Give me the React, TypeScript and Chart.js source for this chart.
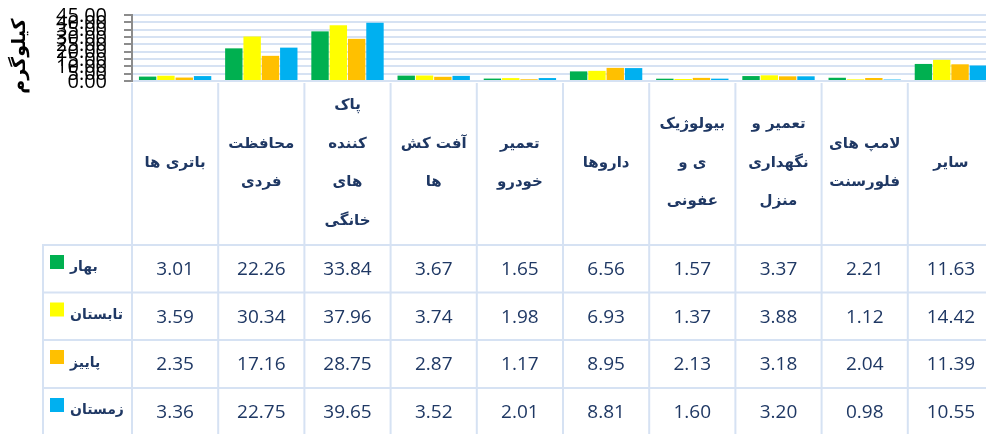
import React, { useEffect, useRef } from "react";
import { Chart, registerables } from "chart.js";

Chart.register(...registerables);

const categories: string[][] = [
  ["باتری ها"],
  ["محافظت", "فردی"],
  ["پاک", "کننده", "های", "خانگی"],
  ["آفت کش", "ها"],
  ["تعمیر", "خودرو"],
  ["داروها"],
  ["بیولوژیک", "ی و", "عفونی"],
  ["تعمیر و", "نگهداری", "منزل"],
  ["لامپ های", "فلورسنت"],
  ["سایر"],
];

const seriesNames = ["بهار", "تابستان", "پاییز", "زمستان"];
const spring = [3.01, 22.26, 33.84, 3.67, 1.65, 6.56, 1.57, 3.37, 2.21, 11.63];
const summer = [3.59, 30.34, 37.96, 3.74, 1.98, 6.93, 1.37, 3.88, 1.12, 14.42];
const autumn = [2.35, 17.16, 28.75, 2.87, 1.17, 8.95, 2.13, 3.18, 2.04, 11.39];
const winter = [3.36, 22.75, 39.65, 3.52, 2.01, 8.81, 1.6, 3.2, 0.98, 10.55];
const seriesColors = ["#00B050", "#FFFF00", "#FFC000", "#00B0F0"];
const yMin = 0;
const yMax = 45;
const yStep = 5;
const yTitle = "کیلوگرم";

const seriesValues = [spring, summer, autumn, winter];

const GRID = "#D6E2F3";
const TEXT = "#1F3864";
const PERSIAN_FONT = '"DejaVu Sans", sans-serif';
const NUM_FONT = '"Open Sans", sans-serif';

const tablePlugin = {
  id: "dataTable",
  afterDraw(chart: any) {
    const { ctx, chartArea, scales } = chart;
    const x = scales.x;
    const y = scales.y;
    const H = chart.height;
    const n = categories.length;
    const bounds: number[] = [chartArea.left];
    for (let i = 0; i < n - 1; i++) {
      bounds.push((x.getPixelForValue(i) + x.getPixelForValue(i + 1)) / 2);
    }
    bounds.push(chartArea.right);

    const tableLeft = 43;
    const rowTops = [245, 292.5, 340, 388, 435.5];
    const headerTop = chartArea.bottom + 2;

    ctx.save();
    ctx.direction = "ltr";

    // y tick labels from the scale's ticks
    ctx.fillStyle = "#000000";
    ctx.font = `20px ${NUM_FONT}`;
    ctx.textAlign = "right";
    ctx.textBaseline = "middle";
    y.ticks.forEach((t: any) => {
      ctx.fillText(Number(t.value).toFixed(2), 107, y.getPixelForValue(t.value) + 1);
    });

    ctx.strokeStyle = GRID;
    ctx.lineWidth = 2;
    // vertical lines
    bounds.forEach((b) => {
      ctx.beginPath();
      ctx.moveTo(b, headerTop);
      ctx.lineTo(b, H);
      ctx.stroke();
    });
    ctx.beginPath();
    ctx.moveTo(tableLeft, rowTops[0]);
    ctx.lineTo(tableLeft, H);
    ctx.stroke();
    // horizontal lines
    rowTops.forEach((t) => {
      ctx.beginPath();
      ctx.moveTo(tableLeft - 1, t);
      ctx.lineTo(chartArea.right, t);
      ctx.stroke();
    });

    // header labels
    ctx.fillStyle = TEXT;
    ctx.font = `bold 15px ${PERSIAN_FONT}`;
    ctx.textAlign = "center";
    ctx.textBaseline = "middle";
    ctx.direction = "rtl";
    const headerCenter = (headerTop + rowTops[0]) / 2 - 1;
    const lineH = 38.5;
    categories.forEach((lines, i) => {
      const cx = (bounds[i] + bounds[i + 1]) / 2;
      const startY = headerCenter - ((lines.length - 1) * lineH) / 2;
      lines.forEach((ln, j) => {
        ctx.fillText(ln, cx, startY + j * lineH);
      });
    });

    // rows
    seriesNames.forEach((name, r) => {
      const top = rowTops[r];
      const bottom = rowTops[r + 1];
      const cy = (top + bottom) / 2;
      ctx.fillStyle = seriesColors[r];
      ctx.fillRect(50, top + 10, 14, 14);
      ctx.fillStyle = TEXT;
      ctx.font = `bold 14px ${PERSIAN_FONT}`;
      ctx.textAlign = "left";
      ctx.direction = "ltr";
      ctx.fillText(name, 70, cy - 1);
      ctx.font = `19px ${NUM_FONT}`;
      ctx.textAlign = "center";
      seriesValues[r].forEach((v, i) => {
        const cx = (bounds[i] + bounds[i + 1]) / 2;
        ctx.fillText(v.toFixed(2), cx, cy + 1);
      });
    });

    // y title
    ctx.save();
    ctx.translate(20, 56);
    ctx.rotate(-Math.PI / 2);
    ctx.fillStyle = "#000000";
    ctx.font = `bold 19px ${PERSIAN_FONT}`;
    ctx.textAlign = "center";
    ctx.textBaseline = "middle";
    ctx.direction = "rtl";
    ctx.fillText(yTitle, 0, 0);
    ctx.restore();

    ctx.restore();
  },
};

export default function App() {
  const ref = useRef<HTMLCanvasElement | null>(null);
  useEffect(() => {
    document.body.style.margin = "0";
    const canvas = ref.current!;
    const chart = new Chart(canvas, {
      type: "bar",
      data: {
        labels: categories.map((c) => c.join(" ")),
        datasets: seriesNames.map((name, i) => ({
          label: name,
          data: seriesValues[i],
          backgroundColor: seriesColors[i],
          borderWidth: 0,
          categoryPercentage: 0.85,
          barPercentage: 0.95,
        })),
      },
      options: {
        animation: false,
        responsive: false,
        devicePixelRatio: 1,
        layout: { padding: { top: 15, bottom: 353, right: 6, left: 0 } },
        plugins: {
          legend: { display: false },
          tooltip: { enabled: false },
          title: { display: false },
        },
        scales: {
          x: { display: false },
          y: {
            min: yMin,
            max: yMax,
            afterFit: (scale: any) => {
              scale.width = 132;
              scale.paddingTop = 0;
              scale.paddingBottom = 0;
            },
            border: { display: true, color: "#8C8C8C", width: 2 },
            grid: {
              color: GRID,
              lineWidth: 2,
              drawTicks: true,
              tickLength: 8,
              tickColor: "#8C8C8C",
              tickWidth: 2,
            },
            ticks: {
              stepSize: yStep,
              autoSkip: false,
              display: false,
            },
          },
        },
      },
      plugins: [tablePlugin],
    });
    return () => chart.destroy();
  }, []);
  return (
    <div
      style={{
        position: "absolute",
        left: 0,
        top: 0,
        width: 986,
        height: 434,
        overflow: "hidden",
        background: "#ffffff",
      }}
    >
      <canvas ref={ref} width={1000} height={434} style={{ display: "block" }} />
    </div>
  );
}
